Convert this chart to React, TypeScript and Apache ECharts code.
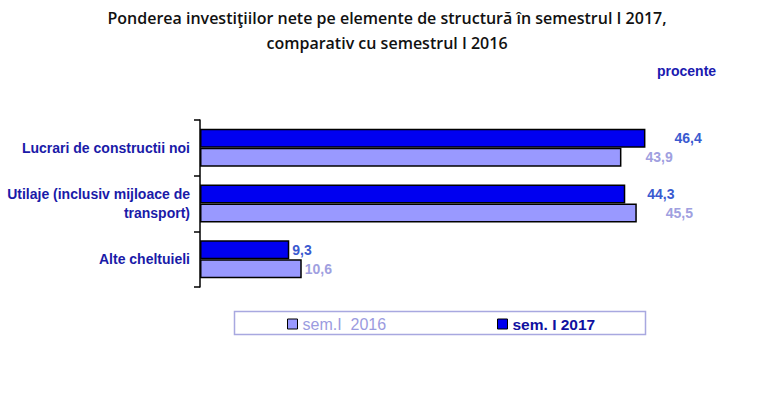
import React, { useEffect, useRef } from "react";
import * as echarts from "echarts";

const categories = [
  "Lucrari de constructii noi",
  "Utilaje (inclusiv mijloace de\ntransport)",
  "Alte cheltuieli",
];
const seriesNames = ["sem. I 2017", "sem.I  2016"];
const values2017 = [46.4, 44.3, 9.3];
const values2016 = [43.9, 45.5, 10.6];

const fmt = (v: number) => v.toFixed(1).replace(".", ",");

export default function App() {
  const ref = useRef<HTMLDivElement>(null);
  useEffect(() => {
    if (!ref.current) return;
    const chart = echarts.init(ref.current, null, { renderer: "svg" });
    const dist2017 = [29, 22, 3];
    const dist2016 = [24, 29, 3];
    chart.setOption({
      animation: false,
      backgroundColor: "#ffffff",
      title: {
        text: "Ponderea investiţiilor nete pe elemente de structură în semestrul I 2017,\ncomparativ cu semestrul I 2016",
        left: 382,
        textAlign: "center",
        top: 0,
        textStyle: {
          fontFamily: "Open Sans",
          fontWeight: 600,
          fontSize: 16,
          lineHeight: 25,
          color: "#111111",
        },
      },
      graphic: [
        {
          type: "text",
          left: 657,
          top: 64,
          style: {
            text: "procente",
            fontFamily: "Liberation Sans",
            fontWeight: "bold",
            fontSize: 14,
            fill: "#1a1ab0",
          },
        },
        {
          type: "rect",
          shape: { x: 234.5, y: 311.5, width: 411, height: 23 },
          style: { fill: "none", stroke: "#a8a8e0", lineWidth: 1.5 },
        },
      ],
      legend: [
        {
          data: [seriesNames[1]],
          left: 287,
          top: 316,
          padding: 0,
          itemWidth: 10,
          itemHeight: 10,
          icon: "rect",
          itemStyle: { borderColor: "#000", borderWidth: 1 },
          textStyle: {
            fontFamily: "Liberation Sans",
            fontSize: 16,
            color: "#9b9be0",
          },
        },
        {
          data: [seriesNames[0]],
          left: 497,
          top: 316,
          padding: 0,
          itemWidth: 10,
          itemHeight: 10,
          icon: "rect",
          itemStyle: { borderColor: "#000", borderWidth: 1 },
          textStyle: {
            fontFamily: "Liberation Sans",
            fontWeight: "bold",
            fontSize: 15.5,
            color: "#1010a0",
          },
        },
      ],
      grid: { left: 200, top: 120, width: 480, height: 167 },
      xAxis: {
        type: "value",
        min: 0,
        max: 50,
        show: false,
      },
      yAxis: {
        type: "category",
        data: categories,
        inverse: true,
        axisLine: { show: true, lineStyle: { color: "#000", width: 1.5 } },
        axisTick: { show: true, length: 6, lineStyle: { color: "#000", width: 1.5 } },
        axisLabel: {
          fontFamily: "Liberation Sans",
          fontWeight: "bold",
          fontSize: 14,
          color: "#1a1aa8",
          margin: 10,
          lineHeight: 19,
          align: "right",
        },
      },
      series: [
        {
          name: seriesNames[0],
          type: "bar",
          data: values2017.map((v, i) => ({
            value: v,
            label: { distance: dist2017[i] },
          })),
          barWidth: 19,
          barGap: "0%",
          itemStyle: { color: "#0000f0", borderColor: "#000", borderWidth: 1.5 },
          label: {
            show: true,
            position: "right",
            formatter: (p: any) => fmt(p.value),
            fontFamily: "Liberation Sans",
            fontWeight: "bold",
            fontSize: 14,
            color: "#3a5ad0",
          },
        },
        {
          name: seriesNames[1],
          type: "bar",
          data: values2016.map((v, i) => ({
            value: v,
            label: { distance: dist2016[i] },
          })),
          barWidth: 19,
          barGap: "0%",
          itemStyle: { color: "#9999ff", borderColor: "#000", borderWidth: 1.5 },
          label: {
            show: true,
            position: "right",
            formatter: (p: any) => fmt(p.value),
            fontFamily: "Liberation Sans",
            fontWeight: "bold",
            fontSize: 14,
            color: "#a0a0e0",
          },
        },
      ],
    });
    return () => chart.dispose();
  }, []);
  return (
    <div
      ref={ref}
      style={{ position: "fixed", left: 0, top: 0, width: 768, height: 420 }}
    />
  );
}
